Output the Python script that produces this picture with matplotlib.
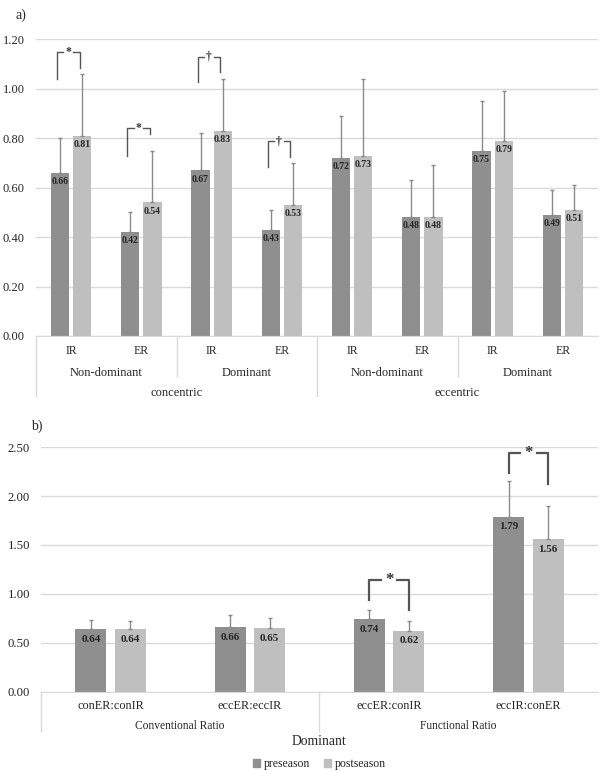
import matplotlib.pyplot as plt
import matplotlib.transforms as mtransforms
from matplotlib.patches import Patch
import numpy as np

plt.rcParams['font.family'] = ['Liberation Serif', 'DejaVu Serif']

# panel a) data
a_level1 = ["IR", "ER", "IR", "ER", "IR", "ER", "IR", "ER"]
a_level2 = ["Non-dominant", "Dominant", "Non-dominant", "Dominant"]
a_level3 = ["concentric", "eccentric"]
a_pre = [0.66, 0.42, 0.67, 0.43, 0.72, 0.48, 0.75, 0.49]
a_post = [0.81, 0.54, 0.83, 0.53, 0.73, 0.48, 0.79, 0.51]
a_pre_sd = [0.14, 0.08, 0.15, 0.08, 0.17, 0.15, 0.20, 0.10]
a_post_sd = [0.25, 0.21, 0.21, 0.17, 0.31, 0.21, 0.20, 0.10]
# significance: (category, left leg bottom, top, right leg bottom, symbol)
a_sig = [(0, 1.04, 1.147, 1.083, "*"), (1, 0.73, 0.84, 0.815, "*"),
         (2, 1.026, 1.13, 1.067, "\u2020"), (3, 0.683, 0.788, 0.725, "\u2020")]

# panel b) data
b_level1 = ["conER:conIR", "eccER:eccIR", "eccER:conIR", "eccIR:conER"]
b_level2 = ["Conventional Ratio", "Functional Ratio"]
b_pre = [0.64, 0.66, 0.74, 1.79]
b_post = [0.64, 0.65, 0.62, 1.56]
b_pre_sd = [0.09, 0.12, 0.09, 0.37]
b_post_sd = [0.08, 0.10, 0.10, 0.34]
b_sig = [(2, 0.94, 1.14, 0.83, "*"), (3, 2.24, 2.44, 2.12, "*")]

PRE_C = "#8f8f8f"
POST_C = "#bfbfbf"
GRID_C = "#dadada"
ERR_C = "#8a8a8a"
TXT_C = "#262626"

W, H = 605, 771
fig = plt.figure(figsize=(W / 100, H / 100), dpi=100)


def px_axes(left, right, top, bottom):
    return fig.add_axes([left / W, 1 - bottom / H, (right - left) / W, (bottom - top) / H])


def draw_bars(ax, pre, post, pre_sd, post_sd, width, off, lab_size, lab_pad):
    x = np.arange(len(pre))
    ax.bar(x - off, pre, width, color=PRE_C, zorder=2)
    ax.bar(x + off, post, width, color=POST_C, zorder=2)
    ax.errorbar(x - off, pre, yerr=[np.zeros(len(pre)), pre_sd], fmt='none',
                ecolor=ERR_C, elinewidth=1, capsize=1.5, capthick=1, zorder=3)
    ax.errorbar(x + off, post, yerr=[np.zeros(len(post)), post_sd], fmt='none',
                ecolor=ERR_C, elinewidth=1, capsize=1.5, capthick=1, zorder=3)
    for xi, v in zip(x - off, pre):
        ax.annotate(f"{v:.2f}", (xi, v), xytext=(0, -lab_pad), textcoords='offset points',
                    ha='center', va='top', fontsize=lab_size, fontweight='bold', color=TXT_C, zorder=4)
    for xi, v in zip(x + off, post):
        ax.annotate(f"{v:.2f}", (xi, v), xytext=(0, -lab_pad), textcoords='offset points',
                    ha='center', va='top', fontsize=lab_size, fontweight='bold', color=TXT_C, zorder=4)


def draw_sig(ax, sig, xl, xr, lw, star_size, gap):
    for c, yl, yt, yr, sym in sig:
        x1, x2 = c + xl, c + xr
        xm = (x1 + x2) / 2
        ax.plot([x1, x1, xm - gap], [yl, yt, yt], color="#555555", lw=lw, zorder=4)
        ax.plot([xm + gap, x2, x2], [yt, yt, yr], color="#555555", lw=lw, zorder=4)
        ax.text(xm, yt, sym, ha='center', va='center', fontsize=star_size,
                fontweight='bold', color="#333333", zorder=4)


def style_axis(ax, ymax, step, tick_size):
    ax.set_ylim(0, ymax)
    ax.set_yticks(np.arange(0, ymax + step / 2, step))
    ax.set_yticklabels([f"{t:.2f}" for t in np.arange(0, ymax + step / 2, step)])
    ax.tick_params(axis='y', length=0, pad=8, labelsize=tick_size, colors=TXT_C)
    ax.set_xticks([])
    ax.grid(axis='y', color=GRID_C, lw=1, zorder=0)
    for s in ["top", "right", "left"]:
        ax.spines[s].set_visible(False)
    ax.spines["bottom"].set_color(GRID_C)


# ---------- panel a ----------
ax1 = px_axes(36, 598, 39.3, 336)
draw_bars(ax1, a_pre, a_post, a_pre_sd, a_post_sd, 0.26, 0.157, 7, 3)
draw_sig(ax1, a_sig, -0.2, 0.12, 1, 8.5, 0.07)
ax1.set_xlim(-0.5, len(a_pre) - 0.5)
style_axis(ax1, 1.2, 0.2, 9)

ha1 = 336 - 39.3
tr1 = mtransforms.blended_transform_factory(ax1.transData, ax1.transAxes)
for i, t in enumerate(a_level1):
    ax1.text(i, -14.5 / ha1, t, transform=tr1, ha='center', va='center', fontsize=8.5, color=TXT_C)
for i, t in enumerate(a_level2):
    ax1.text(2 * i + 0.5, -37 / ha1, t, transform=tr1, ha='center', va='center', fontsize=9, color=TXT_C)
for i, t in enumerate(a_level3):
    ax1.text(4 * i + 1.5, -57.5 / ha1, t, transform=tr1, ha='center', va='center', fontsize=9, color=TXT_C)
for xb, depth in [(-0.5, 60), (1.5, 40), (3.5, 60), (5.5, 40)]:
    ax1.plot([xb, xb], [0, -depth / ha1], transform=tr1, color=GRID_C, lw=1, clip_on=False)
fig.text(16 / W, 1 - 15 / H, "a)", ha='left', va='center', fontsize=10, color=TXT_C)

# ---------- panel b ----------
ax2 = px_axes(41, 598, 447.3, 691.5)
draw_bars(ax2, b_pre, b_post, b_pre_sd, b_post_sd, 0.223, 0.142, 8, 4)
draw_sig(ax2, b_sig, -0.142, 0.142, 1.6, 12, 0.06)
ax2.set_xlim(-0.5, len(b_pre) - 0.5)
style_axis(ax2, 2.5, 0.5, 9.2)

hb = 691.5 - 447.3
tr2 = mtransforms.blended_transform_factory(ax2.transData, ax2.transAxes)
for i, t in enumerate(b_level1):
    ax2.text(i, -14.5 / hb, t, transform=tr2, ha='center', va='center', fontsize=8.8, color=TXT_C)
for i, t in enumerate(b_level2):
    ax2.text(2 * i + 0.5, -34.5 / hb, t, transform=tr2, ha='center', va='center', fontsize=8.3, color=TXT_C)
for xb in [-0.5, 1.5]:
    ax2.plot([xb, xb], [0, -39 / hb], transform=tr2, color=GRID_C, lw=1, clip_on=False)
ax2.text(0.5, -50.2 / hb, "Dominant", transform=ax2.transAxes, ha='center', va='center',
         fontsize=9.8, color=TXT_C)
fig.text(43 / W, 1 - 426 / H, "b)", ha='right', va='center', fontsize=10, color=TXT_C)

handles = [Patch(color=PRE_C, label="preseason"), Patch(color=POST_C, label="postseason")]
fig.legend(handles=handles, loc='center', bbox_to_anchor=(319.5 / W, 1 - 764 / H), ncol=2,
           frameon=False, fontsize=8.5, handlelength=0.6, handleheight=0.6,
           handletextpad=0.3, columnspacing=1.2, labelcolor=TXT_C)

fig.savefig("out.png", dpi=100)
